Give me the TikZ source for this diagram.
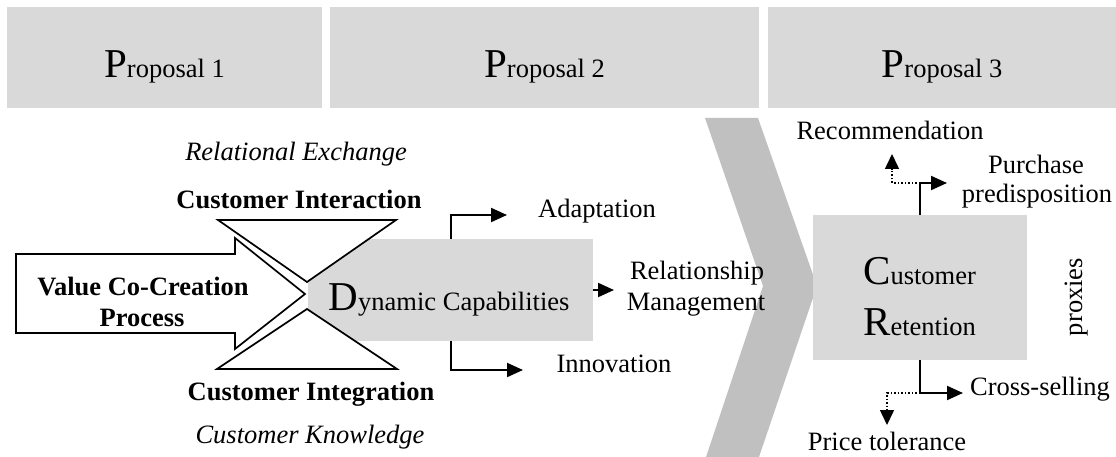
\documentclass[tikz,border=0pt]{standalone}
\usepackage{fontspec}
\setmainfont{Liberation Serif}
\usetikzlibrary{arrows.meta}
\definecolor{panelgray}{HTML}{D9D9D9}
\definecolor{chevgray}{HTML}{C0C0C0}
% enlarged initial letter
\newcommand{\initial}[1]{{\fontsize{41}{41}\selectfont #1}}

\begin{document}
\begin{tikzpicture}[x=1pt,y=-1pt,
  txt/.style={inner sep=0pt, font=\fontsize{26.5}{31}\selectfont},
  btxt/.style={inner sep=0pt, font=\fontsize{26.5}{31}\selectfont\bfseries},
  itxt/.style={inner sep=0pt, font=\fontsize{26.5}{31}\selectfont\itshape},
  hdr/.style={fill=panelgray, draw=none, minimum width=#1, minimum height=101pt, inner sep=0pt},
  panel/.style={fill=panelgray, draw=none, inner sep=0pt},
  outline/.style={draw=black, line width=1.7pt, fill=white, line join=miter},
  conn/.style={line width=2pt, -{Triangle[length=16pt,width=14pt]}},
  dotconn/.style={line width=1.5pt, dotted, -{Triangle[length=15pt,width=14pt]}}
]
\useasboundingbox (0,0) rectangle (1116,457);

% header panels
\node[hdr=315pt] (h1) at (164.5,57.5) {};
\node[hdr=429pt] (h2) at (544.5,57.5) {};
\node[hdr=348pt] (h3) at (942,57.5) {};
\node[txt, anchor=base] (h1t) at (164.5,78) {\initial{P}roposal 1};
\node[txt, anchor=base] (h2t) at (544.5,78) {\initial{P}roposal 2};
\node[txt, anchor=base] (h3t) at (942,78) {\initial{P}roposal 3};

% chevron between capabilities and retention
\fill[chevgray] (705,118) -- (758,118) -- (817,286) -- (759,457)
  -- (706,457) -- (763,286) -- cycle;

% dynamic capabilities panel
\node[panel, minimum width=285pt, minimum height=102pt] (dc) at (450.5,290) {};

% hourglass triangles
\draw[outline] (218,220) -- (396,220) -- (307,282) -- cycle;
\draw[outline] (217,369) -- (397,369) -- (307,309) -- cycle;

% value co-creation block arrow
\draw[outline] (16,254) -- (235,254) -- (235,238) -- (305,294)
  -- (235,349) -- (235,333) -- (16,333) -- cycle;

\node[btxt, anchor=base] (vcp1) at (143,295) {Value Co-Creation};
\node[btxt, anchor=base] (vcp2) at (142,326) {Process};

\node[itxt, anchor=base] (relx) at (296,161) {Relational Exchange};
\node[btxt, anchor=base] (cint) at (299,208) {Customer Interaction};
\node[btxt, anchor=base] (cintg) at (311,400) {Customer Integration};
\node[itxt, anchor=base] (cknow) at (310,443) {Customer Knowledge};

\node[txt, anchor=base] (dct) at (449,310) {\initial{D}ynamic Capabilities};

% capability outcomes
\node[txt, anchor=base] (adapt) at (597,218) {Adaptation};
\node[txt, anchor=base] (rel1) at (697,279) {Relationship};
\node[txt, anchor=base] (rel2) at (696,310) {Management};
\node[txt, anchor=base] (inno) at (614,372) {Innovation};

\coordinate (adaptTip) at (507,215);
\coordinate (relTip) at (614,290);
\coordinate (innoTip) at (523,370);
\draw[conn] (dc.north) |- (adaptTip);
\draw[conn] (dc.east) -- (relTip);
\draw[conn] (dc.south) |- (innoTip);

% customer retention panel
\node[panel, minimum width=214pt, minimum height=145pt] (cr) at (920,287.5) {};
\node[txt, anchor=base west] (crt1) at (863,284) {\initial{C}ustomer};
\node[txt, anchor=base west] (crt2) at (863,335) {\initial{R}etention};

\node[txt, anchor=base] (recom) at (890,140) {Recommendation};
\node[txt, anchor=base] (purch1) at (1036,174) {Purchase};
\node[txt, anchor=base] (purch2) at (1037,203) {predisposition};
\node[txt, anchor=base] (cross) at (1040,395) {Cross-selling};
\node[txt, anchor=base] (price) at (887,450) {Price tolerance};
\node[txt, anchor=base, rotate=90] (proxies) at (1082,297) {proxies};

\coordinate (crUp) at (920,183);
\coordinate (purchTip) at (947,183);
\coordinate (recTip) at (892,154);
\coordinate (crDown) at (920,393);
\coordinate (crossTip) at (963,393);
\coordinate (priceTip) at (887,425);
\draw[conn] (cr.north) |- (purchTip);
\draw[dotconn] (crUp) -| (recTip);
\draw[conn] (cr.south) |- (crossTip);
\draw[dotconn] (crDown) -| (priceTip);

\end{tikzpicture}
\end{document}
